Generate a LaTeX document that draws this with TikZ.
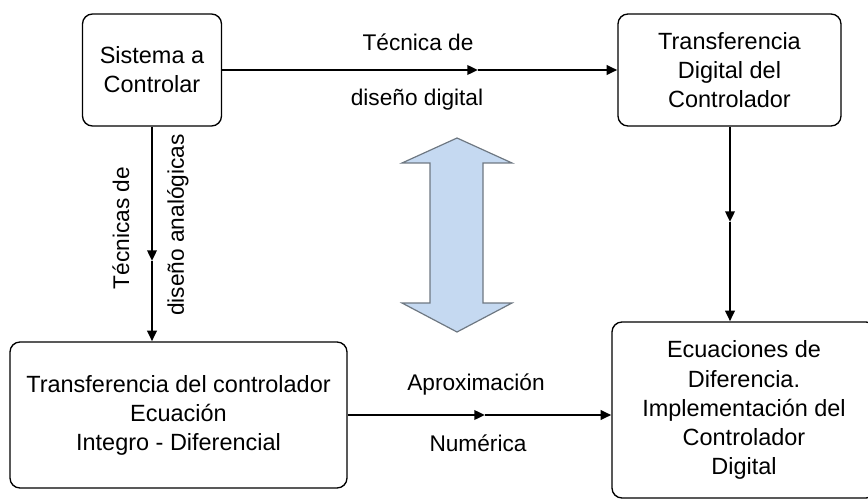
\documentclass[tikz,border=0pt]{standalone}
\usepackage{fontspec}
\setmainfont{Liberation Sans}
\usetikzlibrary{arrows.meta}

\definecolor{arrowblue}{RGB}{197,217,241}
\definecolor{arrowedge}{RGB}{110,120,130}

\tikzset{every picture/.style={line width=0.75pt}}
\tikzset{
  blockbox/.style={draw, rounded corners=7.5pt, line width=1pt, align=center, inner sep=0pt,
    font=\fontsize{17.6}{21.8}\selectfont},
  flowline/.style={line width=1.8pt, -{Triangle[length=8pt,width=7pt]}},
  flowlabel/.style={inner sep=0pt, font=\fontsize{17}{20}\selectfont},
}

\begin{document}
\begin{tikzpicture}[x=0.75pt,y=0.75pt,yscale=-1,xscale=1]
\useasboundingbox (0,0) rectangle (868,499);
\clip (0,0) rectangle (868,499);

% Blocks
\node [blockbox, minimum width=104.25pt, minimum height=84pt] (sistema) at (152,70) {Sistema a\\Controlar};
\node [blockbox, minimum width=167.25pt, minimum height=84pt] (digital) at (729.5,70) {Transferencia\\Digital del\\Controlador};
\node [blockbox, minimum width=252.75pt, minimum height=109.5pt] (analogo) at (178.5,415) {Transferencia del controlador\\Ecuaci\'on\\Integro - Diferencial};
\node [blockbox, minimum width=198pt, minimum height=132pt] (ecuaciones) at (744,410) {Ecuaciones de\\Diferencia.\\Implementaci\'on del\\Controlador\\Digital};

% Mid points of the connectors
\coordinate (mtop) at (478,70);
\coordinate (mleft) at (152,261);
\coordinate (mright) at (730,222);
\coordinate (mbottom) at (485,415);

%Straight Lines
\draw [flowline] (sistema) -- (mtop);
\draw [flowline] (mtop) -- (digital);
%Straight Lines
\draw [flowline] (sistema) -- (mleft);
\draw [flowline] (mleft) -- (mleft |- analogo.north);
%Straight Lines
\draw [flowline] (digital.south -| mright) -- (mright);
\draw [flowline] (mright) -- (mright |- ecuaciones.north);
%Straight Lines
\draw [flowline] (analogo) -- (mbottom);
\draw [flowline] (mbottom) -- (mbottom -| ecuaciones.west);

%Double Arrow
\draw [draw=arrowedge, line width=0.9pt, fill=arrowblue]
  (457,138) -- (512,163) -- (483,163) -- (483,303) -- (512,303) -- (457,332)
  -- (402,303) -- (430,303) -- (430,163) -- (402,163) -- cycle;

% Text Node
\node [flowlabel] (lbltec) at (418,42) {T\'ecnica de};
% Text Node
\node [flowlabel] (lbldis) at (417,100) {dise\~no digital};
% Text Node
\node [flowlabel, rotate=90] (lbltecs) at (121,228) {T\'ecnicas de};
% Text Node
\node [flowlabel, rotate=90] (lblana) at (178,225) {dise\~no anal\'ogicas};
% Text Node
\node [flowlabel] (lblapr) at (476,385) {Aproximaci\'on};
% Text Node
\node [flowlabel] (lblnum) at (478,443) {Num\'erica};

\end{tikzpicture}
\end{document}
